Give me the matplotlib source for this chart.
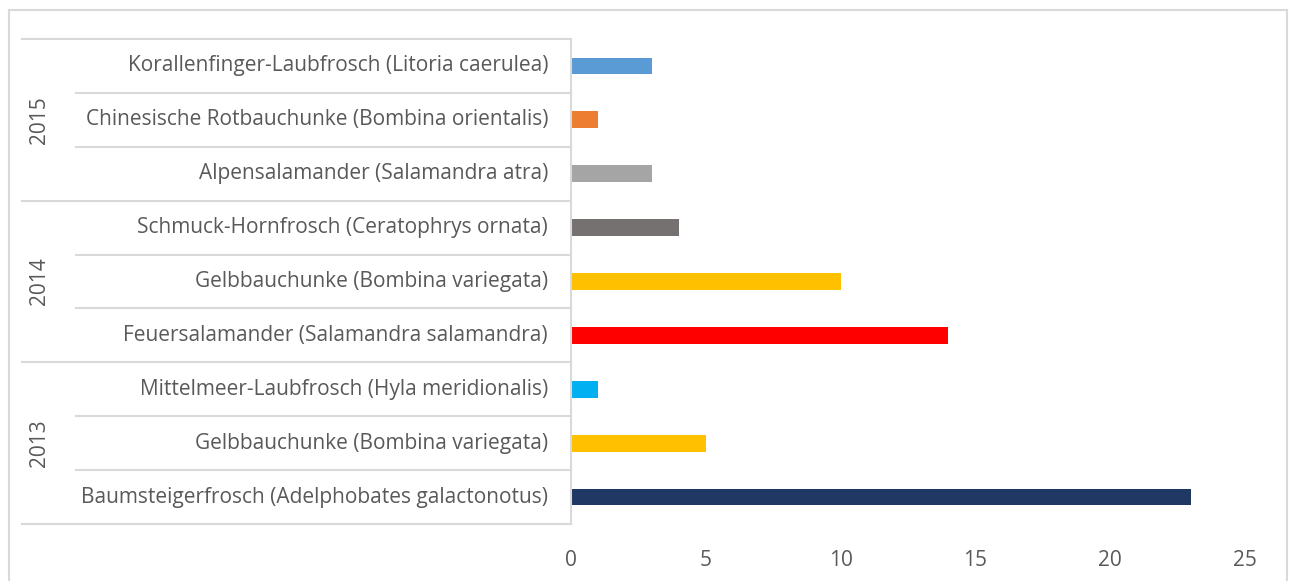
import matplotlib.pyplot as plt
from matplotlib.transforms import blended_transform_factory
from matplotlib.lines import Line2D

# species per year, bottom to top
species = [
    "Baumsteigerfrosch (Adelphobates galactonotus)",
    "Gelbbauchunke (Bombina variegata)",
    "Mittelmeer-Laubfrosch (Hyla meridionalis)",
    "Feuersalamander (Salamandra salamandra)",
    "Gelbbauchunke (Bombina variegata)",
    "Schmuck-Hornfrosch (Ceratophrys ornata)",
    "Alpensalamander (Salamandra atra)",
    "Chinesische Rotbauchunke (Bombina orientalis)",
    "Korallenfinger-Laubfrosch (Litoria caerulea)",
]
counts = [23, 5, 1, 14, 10, 4, 3, 1, 3]
colors = ["#203864", "#FFC000", "#00B0F0", "#FF0000", "#FFC000",
          "#767171", "#A5A5A5", "#ED7D31", "#5B9BD5"]
years = ["2013", "2014", "2015"]
group_size = [3, 3, 3]
xticks = [0, 5, 10, 15, 20, 25]

plt.rcParams['font.family'] = ['Open Sans', 'DejaVu Sans']
text_col = "#595959"
line_col = "#D9D9D9"
fs = 15

fig = plt.figure(figsize=(12.9, 5.81), dpi=100)
ax = fig.add_axes([571 / 1290, 1 - 524 / 581, 674 / 1290, 485 / 581])

y = list(range(len(species)))
ax.barh(y, counts, height=0.31, color=colors)
ax.set_xlim(0, 25)
ax.set_ylim(-0.5, len(species) - 0.5)
ax.set_xticks(xticks)
ax.set_xticklabels([str(t) for t in xticks], fontsize=fs, color=text_col)
ax.tick_params(axis='x', length=0, pad=19)
ax.set_yticks([])
for s in ["top", "right", "bottom"]:
    ax.spines[s].set_visible(False)
ax.spines["left"].set_color(line_col)
ax.spines["left"].set_linewidth(1.5)

trans = blended_transform_factory(ax.transAxes, ax.transData)
x_axis = 0.0
x_cat = (76 - 571) / 674
x_grp = (22 - 571) / 674
x_lab = (548 - 571) / 674
x_year = (40 - 571) / 674

# category labels and separators
for i, name in enumerate(species):
    ax.text(x_lab, i, name, transform=trans, ha="right", va="center",
            fontsize=fs, color=text_col)

start = 0
boundaries = [-0.5]
for yr, n in zip(years, group_size):
    for k in range(1, n):
        yb = start + k - 0.5
        ax.plot([x_cat, x_axis], [yb, yb], transform=trans, color=line_col,
                lw=1.5, clip_on=False)
    mid = start + (n - 1) / 2
    ax.text(x_year, mid, yr, transform=trans, rotation=90, ha="center",
            va="center", fontsize=fs, color=text_col)
    start += n
    boundaries.append(start - 0.5)

for yb in boundaries:
    ax.plot([x_grp, x_axis], [yb, yb], transform=trans, color=line_col,
            lw=1.5, clip_on=False)

# chart area border
W, H = 1290, 581
for xs, ys in [([9, 9], [0, 10]), ([9, 1287], [10, 10]), ([1287, 1287], [10, 0])]:
    fig.add_artist(Line2D([v / W for v in xs], [1 - v / H if v else 0 for v in ys],
                          color=line_col, lw=1.5))

fig.savefig("out.png", dpi=100)
